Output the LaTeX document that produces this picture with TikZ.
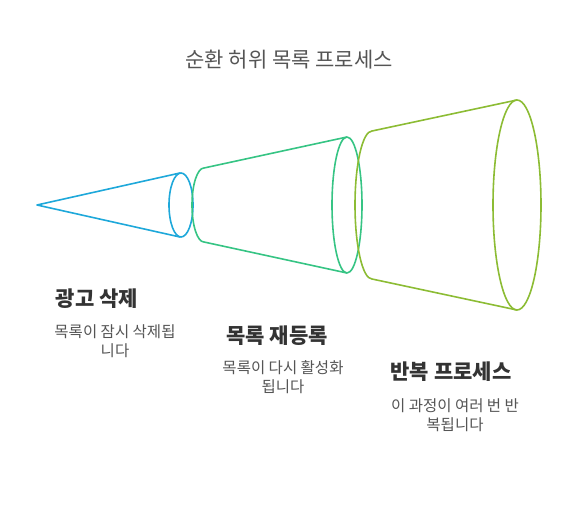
\documentclass[tikz,border=0pt]{standalone}
\usepackage{fontspec}
\setmainfont{Noto Sans CJK KR}
\begin{document}
\begin{tikzpicture}[x=1pt,y=-1pt,
  cblue/.style={draw={rgb,255:red,30;green,168;blue,218},line width=1.6pt,line join=round},
  cgreen/.style={draw={rgb,255:red,54;green,196;blue,132},line width=1.6pt,line join=round},
  colive/.style={draw={rgb,255:red,140;green,188;blue,52},line width=1.6pt,line join=round},
  ttl/.style={font=\fontsize{21}{24}\selectfont,text={rgb,255:red,85;green,85;blue,85}},
  head/.style={font=\fontsize{21}{24}\selectfont\bfseries,text={rgb,255:red,51;green,51;blue,51}},
  body/.style={font=\fontsize{15.5}{18.5}\selectfont,text={rgb,255:red,85;green,85;blue,85},align=center}]
\useasboundingbox (0,0) rectangle (578,506);
% blue cone
\coordinate (apex) at (37,205);
\coordinate (bT) at (180,173);
\coordinate (bB) at (180,237);
\draw[cblue] (bT) -- (apex) -- (bB);
\draw[cblue] (181,205) ellipse [x radius=12, y radius=32];
% green frustum
\coordinate (gTL) at (204,168);
\coordinate (gBL) at (204,242);
\coordinate (gTR) at (347,137);
\coordinate (gBR) at (347,273);
\draw[cgreen] (gTR) -- (gTL) arc[start angle=270,end angle=90,x radius=12,y radius=37] -- (gBR);
\draw[cgreen] (347,205) ellipse [x radius=15, y radius=68];
% olive frustum
\coordinate (oTL) at (372,131);
\coordinate (oBL) at (372,279);
\coordinate (oTR) at (517,100);
\coordinate (oBR) at (517,310);
\draw[colive] (oTR) -- (oTL) arc[start angle=270,end angle=90,x radius=17,y radius=74] -- (oBR);
\draw[colive] (517,205) ellipse [x radius=24, y radius=105];
% texts
\node[ttl] (title) at (289,60) {순환 허위 목록 프로세스};
\node[head] (h1) at (97,299) {광고 삭제};
\node[body] (b1) at (115,341) {목록이 잠시 삭제됩\\니다};
\node[head] (h2) at (277,336) {목록 재등록};
\node[body] (b2) at (283,377) {목록이 다시 활성화\\됩니다};
\node[head] (h3) at (451,372) {반복 프로세스};
\node[body] (b3) at (455,415) {이 과정이 여러 번 반\\복됩니다};
\end{tikzpicture}
\end{document}
